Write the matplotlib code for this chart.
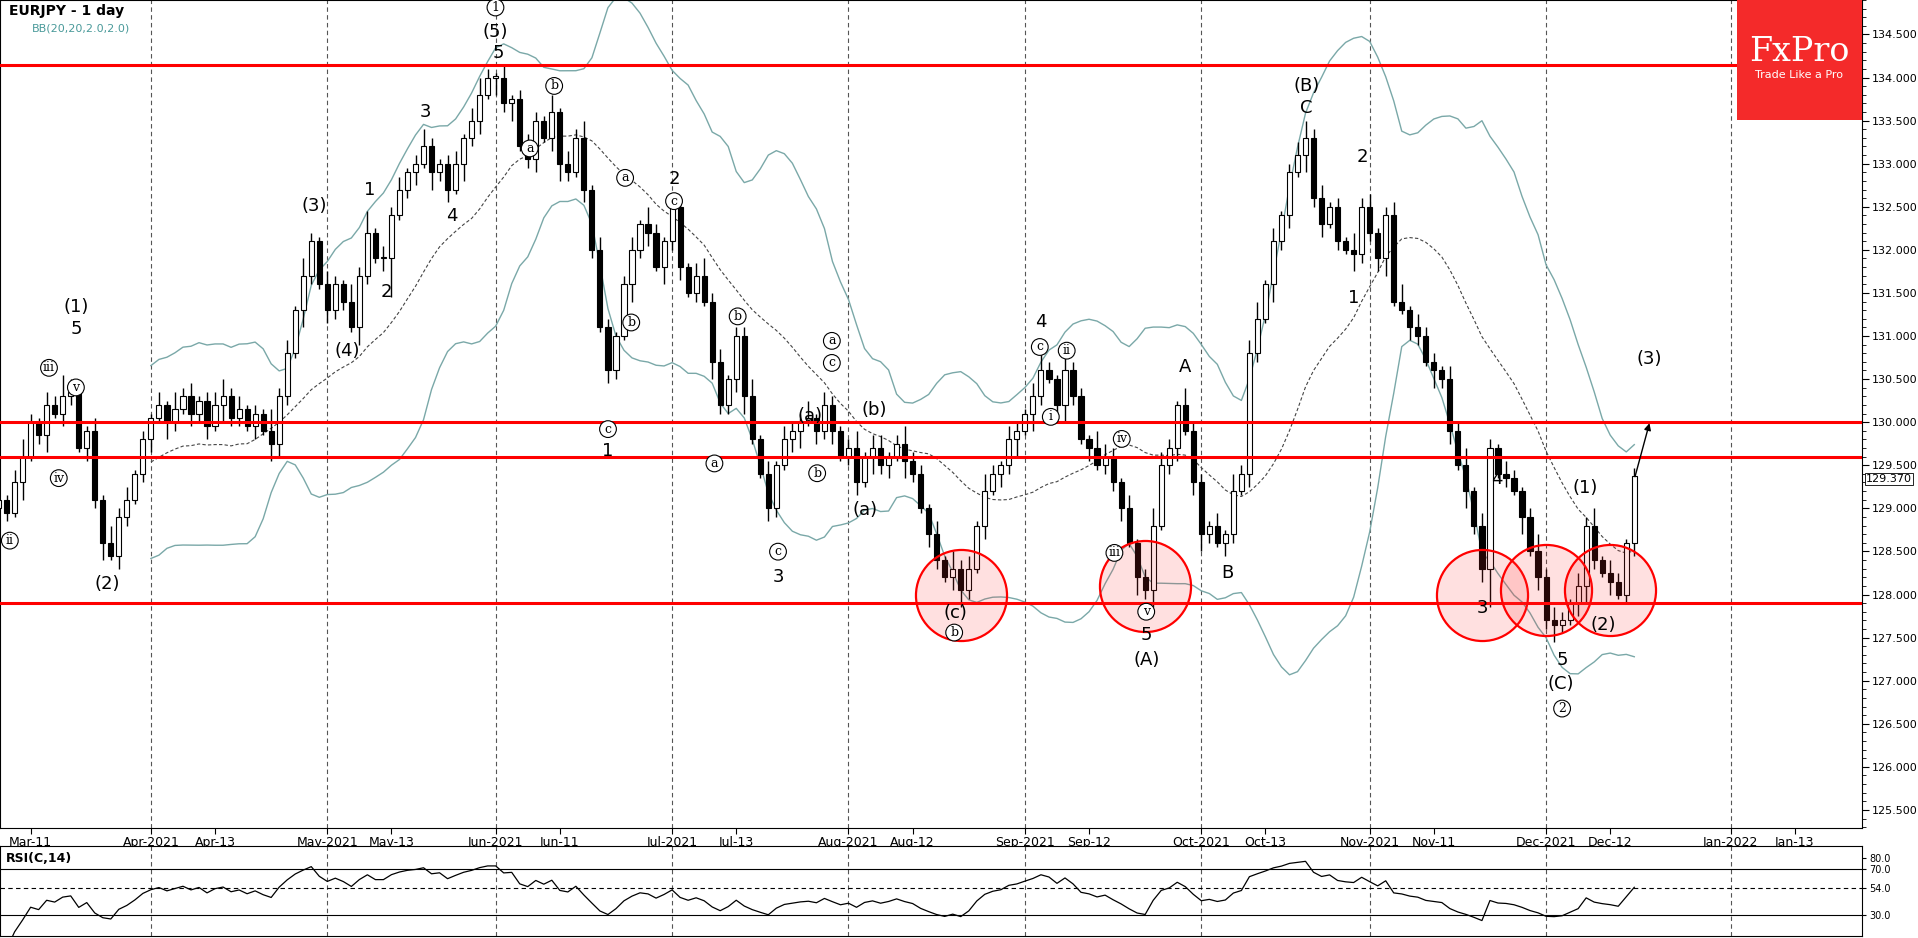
import numpy as np, pandas as pd
import matplotlib
matplotlib.use("Agg")
import matplotlib.pyplot as plt
from matplotlib.patches import Rectangle

closes = [129.1,128.95,129.3,129.6,130.0,129.85,130.2,130.1,130.3,130.35,
129.7,129.9,129.1,128.6,128.45,128.9,129.1,129.4,129.8,130.05,
130.2,130.0,130.15,130.3,130.1,130.25,129.95,130.2,130.3,130.05,
130.15,129.95,130.1,129.9,129.75,130.3,130.8,131.3,131.7,132.1,
131.6,131.3,131.6,131.4,131.1,131.7,132.2,131.9,131.9,132.4,
132.7,132.9,133.0,133.2,132.9,133.0,132.7,133.0,133.3,133.5,
133.8,134.0,134.0,133.7,133.75,133.2,133.05,133.5,133.3,133.6,
133.0,132.9,133.3,132.7,132.0,131.1,130.6,131.0,131.6,132.0,
132.3,132.2,131.8,132.1,132.5,131.8,131.5,131.7,131.4,130.7,
130.2,130.5,131.0,130.3,129.8,129.4,129.0,129.5,129.8,129.9,
130.0,130.05,129.9,130.2,129.9,129.6,129.7,129.3,129.6,129.7,
129.5,129.6,129.75,129.55,129.4,129.0,128.7,128.4,128.2,128.3,
128.05,128.3,128.8,129.2,129.4,129.5,129.8,129.9,130.1,130.3,
130.6,130.5,130.2,130.6,130.3,129.8,129.7,129.5,129.6,129.3,
129.0,128.6,128.2,128.05,128.8,129.5,129.7,130.2,129.9,129.3,
128.7,128.8,128.6,128.7,129.2,129.4,130.8,131.2,131.6,132.1,
132.4,132.9,133.1,133.3,132.6,132.3,132.5,132.1,132.0,131.95,
132.5,132.2,131.9,132.4,131.4,131.3,131.1,131.0,130.7,130.6,
130.5,129.9,129.5,129.2,128.8,128.3,129.7,129.4,129.35,129.2,
128.9,128.5,128.2,127.7,127.65,127.7,127.9,128.1,128.8,128.4,
128.25,128.15,128.0,128.6,129.37]
hi_wick = ("21342" "13253" "21314" "23121" "31423" "12342" "31215" "23142" "13214" "25132"
           "31242" "12313" "42131" "23214" "13241" "32123" "14213" "21342" "31224" "13132"
           "24132" "12413" "31242" "21314" "23142" "13213" "42132" "21432" "13124" "32142"
           "21314" "23413" "12342" "31214" "23123" "41322" "13241" "32132" "12423" "21324" "13212")
lo_wick = ("32141" "24132" "13241" "32123" "14213" "23142" "21314" "32142" "13221" "42139"
           "12314" "23142" "31424" "12313" "42132" "13214" "23142" "31214" "22341" "13213"
           "41323" "12314" "23142" "13213" "42131" "32414" "21342" "13122" "31424" "12313"
           "42132" "13214" "23142" "31214" "22341" "13214" "23142" "39121" "41324" "21342" "13123")
start_date = "2021-03-05"
extra_days = 30
hlines = [134.15, 130.0, 129.6, 127.9]
circles = [(120, 128.0), (143, 128.1), (185, 128.0), (193, 128.05), (201, 128.05)]
tick_labels = ["Mar-11","Apr-2021","Apr-13","May-2021","May-13","Jun-2021","Jun-11","Jul-2021","Jul-13",
               "Aug-2021","Aug-12","Sep-2021","Sep-12","Oct-2021","Oct-13","Nov-2021","Nov-11",
               "Dec-2021","Dec-12","Jan-2022","Jan-13"]
tick_dates = ["2021-03-11","2021-04-01","2021-04-13","2021-05-03","2021-05-13","2021-06-01","2021-06-11",
              "2021-07-01","2021-07-13","2021-08-02","2021-08-12","2021-09-01","2021-09-13","2021-10-01",
              "2021-10-13","2021-11-01","2021-11-11","2021-12-01","2021-12-13","2022-01-03","2022-01-13"]
wave_labels = [("(1)",62,252,0),("5",62,270,0),("iii",40,302,1),("v",62,318,1),("iv",48,392,1),("ii",8,443,1),
 ("(2)",88,478,0),("(3)",257,170,0),("(4)",284,288,0),("1",302,157,0),("2",316,240,0),("3",348,93,0),
 ("4",369,178,0),("(5)",405,28,0),("5",407,45,0),("1",405,8,1),("b",453,72,1),("a",433,123,1),
 ("c",497,352,1),("1",497,370,0),("a",511,147,1),("b",516,265,1),("2",551,148,0),("c",551,166,1),
 ("b",603,260,1),("a",584,380,1),("3",636,473,0),("c",636,452,1),("a",680,280,1),("c",680,298,1),
 ("(a)",662,341,0),("b",668,388,1),("(b)",715,336,0),("(a)",707,418,0),("b",780,518,1),("(c)",781,502,0),
 ("4",851,265,0),("c",850,285,1),("ii",872,288,1),("i",859,342,1),("iv",917,360,1),("iii",911,453,1),
 ("v",937,501,1),("5",937,520,0),("(A)",937,540,0),("A",969,301,0),("B",1003,469,0),("(B)",1068,72,0),
 ("C",1068,90,0),("2",1114,130,0),("1",1107,245,0),("4",1224,393,0),("3",1212,498,0),("(1)",1296,400,0),
 ("(2)",1311,512,0),("5",1277,540,0),("(C)",1276,560,0),("2",1277,580,1),("(3)",1348,295,0)]

def xi(xd): return 4 + (xd - 25) / 6.555
def py(yd): return 134.5 - (yd - 30) / 70.3

c = np.array(closes); n = len(c)
o = np.r_[c[0] - 0.1, c[:-1]]
hi = np.maximum(o, c) + np.array([int(ch) for ch in hi_wick[:n]]) * 0.05
lo = np.minimum(o, c) - np.array([int(ch) for ch in lo_wick[:n]]) * 0.05
dates = pd.bdate_range(start_date, periods=n + extra_days)
idx = np.arange(n)

fig = plt.figure(figsize=(19.18, 9.38), dpi=100)
ax = fig.add_axes([0, 1 - 828/938, 1862/1918, 828/938])
ar = fig.add_axes([0, 2/938, 1862/1918, 90/938])
xl = (0.18, 232.4)
for a in (ax, ar):
    a.set_xlim(*xl)
    for d in pd.to_datetime(tick_dates):
        if d.day <= 3:
            p = dates.searchsorted(d)
            a.axvline(p, color="#555", ls=(0, (4, 3)), lw=0.8, zorder=0)
ax.set_ylim(125.29, 134.89)
ar.set_ylim(11.6, 90.5)

s = pd.Series(c)
mid = s.rolling(20).mean(); sd = s.rolling(20).std(ddof=0)
ax.plot(idx, mid, color="#444", ls=(0, (3, 2)), lw=0.8)
ax.plot(idx, mid + 2*sd, color="#7aa8a8", lw=1)
ax.plot(idx, mid - 2*sd, color="#7aa8a8", lw=1)

for i in range(n):
    ax.vlines(i, lo[i], hi[i], color="black", lw=1, zorder=2)
    b0, b1 = min(o[i], c[i]), max(o[i], c[i])
    ax.add_patch(Rectangle((i - 0.32, b0), 0.64, max(b1 - b0, 0.02),
                 facecolor="white" if c[i] >= o[i] else "black", edgecolor="black", lw=0.8, zorder=3))
for h in hlines:
    ax.axhline(h, color="#ff0000", lw=2.2, zorder=4)
for (x, y) in circles:
    ax.scatter([x], [y], s=4300, facecolor=(1, 0.2, 0.2, 0.15), edgecolor="#ff0000", lw=1.6, zorder=5)
for t, xd, yd, circ in wave_labels:
    kw = dict(ha="center", va="center", fontsize=13 if not circ else 9, zorder=6, family="DejaVu Sans")
    if circ:
        kw["bbox"] = dict(boxstyle="circle,pad=0.15", fc="white", ec="black", lw=0.8)
        kw["family"] = "DejaVu Serif"
    ax.text(xi(xd), py(yd), t, **kw)
ax.annotate("", xy=(xi(1349), py(345)), xytext=(xi(1336), py(393)),
            arrowprops=dict(arrowstyle="-|>", color="black", lw=1), zorder=6)

ax.yaxis.tick_right()
ax.set_yticks(np.arange(125.5, 134.51, 0.5))
ax.set_yticklabels([f"{v:.3f}" for v in np.arange(125.5, 134.51, 0.5)], fontsize=8)
ax.set_yticks(np.arange(125.3, 134.9, 0.1), minor=True)
ax.tick_params(axis="y", which="major", length=5, pad=2)
ax.tick_params(axis="y", which="minor", length=3)
pos = [dates.searchsorted(pd.Timestamp(d)) for d in tick_dates]
ax.set_xticks(pos); ax.set_xticklabels(tick_labels, fontsize=9)
ax.tick_params(axis="x", length=4, pad=2)
ar.set_xticks([])
ax.text(0.005, 0.995, "EURJPY - 1 day", transform=ax.transAxes, fontsize=10, va="top", fontweight="bold")
ax.text(0.017, 0.972, "BB(20,20,2.0,2.0)", transform=ax.transAxes, fontsize=8, va="top", color="#4a9a9a")
ax.text(1.002, py(393), "129.370", transform=ax.get_yaxis_transform(), fontsize=8, va="center",
        bbox=dict(boxstyle="square,pad=0.1", fc="white", ec="black", lw=0.6), zorder=9)
# logo
ax.add_patch(Rectangle((1737/1862, 1 - 120/828), 125/1862, 120/828, transform=ax.transAxes,
                       facecolor="#f42a2a", edgecolor="none", zorder=7))
ax.text((1737+62)/1862, 1 - 52/828, "FxPro", transform=ax.transAxes, color="white", fontsize=24,
        family="DejaVu Serif", ha="center", va="center", zorder=8)
ax.text((1737+62)/1862, 1 - 75/828, "Trade Like a Pro", transform=ax.transAxes, color="white", fontsize=8,
        ha="center", va="center", zorder=8)

# RSI
d = s.diff()
up = d.clip(lower=0).ewm(alpha=1/14, adjust=False).mean()
dn = (-d.clip(upper=0)).ewm(alpha=1/14, adjust=False).mean()
rsi = 100 - 100/(1 + up/dn)
ar.plot(idx, rsi, color="black", lw=0.9)
for lv, ls in ((70, "-"), (30, "-"), (54, (0, (4, 3)))):
    ar.axhline(lv, color="black", lw=0.8, ls=ls)
ar.yaxis.tick_right()
ar.set_yticks([30, 54, 70, 80]); ar.set_yticklabels(["30.0", "54.0", "70.0", "80.0"], fontsize=7)
ar.tick_params(axis="y", length=3, pad=2)
ar.text(0.003, 0.93, "RSI(C,14)", transform=ar.transAxes, fontsize=9, va="top", fontweight="bold")
fig.savefig("out.png", dpi=100)
